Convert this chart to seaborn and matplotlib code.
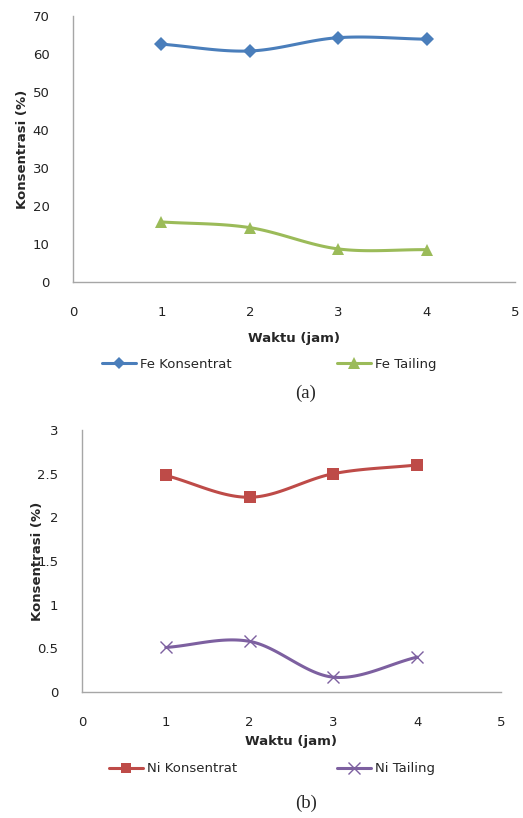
import numpy as np
import pandas as pd
import matplotlib
matplotlib.use("Agg")
import matplotlib.pyplot as plt
from matplotlib.lines import Line2D
from matplotlib.ticker import FuncFormatter
import seaborn as sns

# ---- data ----
waktu = [1, 2, 3, 4]
fe_konsentrat = [62.6, 60.8, 64.3, 63.9]
fe_tailing = [15.8, 14.3, 8.7, 8.5]
ni_konsentrat = [2.48, 2.23, 2.50, 2.60]
ni_tailing = [0.51, 0.58, 0.17, 0.40]
x_ticks = [0, 1, 2, 3, 4, 5]
fe_yticks = [0, 10, 20, 30, 40, 50, 60, 70]
ni_yticks = [0, 0.5, 1, 1.5, 2, 2.5, 3]

sns.set_theme(style="white")
plt.rcParams['font.family'] = ['DejaVu Sans']

C_BLUE = "#4A7EBB"
C_GREEN = "#9BBB59"
C_RED = "#BE4B48"
C_PURPLE = "#7D60A0"
FS = 9.5


def smooth(x, y, n=40):
    """Catmull-Rom style smoothing path through the data points (Excel smoothed line)."""
    x = np.asarray(x, float)
    y = np.asarray(y, float)
    px = np.concatenate([[2 * x[0] - x[1]], x, [2 * x[-1] - x[-2]]])
    py = np.concatenate([[2 * y[0] - y[1]], y, [2 * y[-1] - y[-2]]])
    xs, ys = [], []
    t = np.linspace(0, 1, n)
    for i in range(1, len(px) - 2):
        p0, p1, p2, p3 = [np.array([px[j], py[j]]) for j in (i - 1, i, i + 1, i + 2)]
        c1 = p1 + (p2 - p0) / 6
        c2 = p2 - (p3 - p1) / 6
        b = ((1 - t) ** 3)[:, None] * p1 + (3 * (1 - t) ** 2 * t)[:, None] * c1 \
            + (3 * (1 - t) * t ** 2)[:, None] * c2 + (t ** 3)[:, None] * p2
        xs.extend(b[:, 0])
        ys.extend(b[:, 1])
    return np.array(xs), np.array(ys)


def draw_series(ax, x, y, color, marker, ms, mew=0):
    sx, sy = smooth(x, y)
    sns.lineplot(x=sx, y=sy, ax=ax, color=color, linewidth=2.2, sort=False,
                 estimator=None)
    mfc = color if marker != 'x' else 'none'
    ax.plot(x, y, linestyle='none', marker=marker, markersize=ms,
            markerfacecolor=mfc, markeredgecolor=color, markeredgewidth=mew,
            zorder=5)


def style_axes(ax, ylim, yticks, xpad, ypad):
    ax.set_xlim(0, 5)
    ax.set_ylim(*ylim)
    ax.set_xticks(x_ticks)
    ax.set_yticks(yticks)
    ax.yaxis.set_major_formatter(FuncFormatter(lambda v, p: f"{v:g}"))
    for s in ['top', 'right']:
        ax.spines[s].set_visible(False)
    for s in ['left', 'bottom']:
        ax.spines[s].set_color('#A6A6A6')
        ax.spines[s].set_linewidth(1.0)
    ax.tick_params(axis='both', length=0, labelsize=FS, colors='#222222')
    ax.tick_params(axis='x', pad=xpad)
    ax.tick_params(axis='y', pad=ypad)
    ax.grid(False)


fig = plt.figure(figsize=(5.23, 8.18), dpi=100)

# ---- panel (a) ----
ax1 = fig.add_axes([0.1396, 0.6553, 0.845, 0.3251])
draw_series(ax1, waktu, fe_konsentrat, C_BLUE, 'D', 7.5)
draw_series(ax1, waktu, fe_tailing, C_GREEN, '^', 9)
style_axes(ax1, (0, 70), fe_yticks, 17, 17)
ax1.set_xlabel("Waktu (jam)", fontsize=FS, fontweight='bold')
ax1.set_ylabel("Konsentrasi (%)", fontsize=FS, fontweight='bold')
ax1.yaxis.set_label_coords(-0.1, 0.5)
ax1.xaxis.set_label_coords(0.5, -0.19)

h1 = [Line2D([], [], color=C_BLUE, lw=2.2, marker='D', ms=6, mew=0),
      Line2D([], [], color=C_GREEN, lw=2.2, marker='^', ms=8, mew=0)]
fig.legend(h1, ["Fe Konsentrat", "Fe Tailing"], loc='center',
           bbox_to_anchor=(0.515, 0.555), ncol=2, frameon=False, fontsize=FS,
           handlelength=2.6, handletextpad=0.3, columnspacing=8.0)
fig.text(0.585, 0.519, "(a)", ha='center', va='center', fontsize=13.5,
         family='Liberation Serif')

# ---- panel (b) ----
ax2 = fig.add_axes([0.1568, 0.154, 0.801, 0.3203])
draw_series(ax2, waktu, ni_konsentrat, C_RED, 's', 8)
draw_series(ax2, waktu, ni_tailing, C_PURPLE, 'x', 9, mew=1.0)
style_axes(ax2, (0, 3), ni_yticks, 17, 17)
ax2.set_xlabel("Waktu (jam)", fontsize=FS, fontweight='bold')
ax2.set_ylabel("Konsentrasi (%)", fontsize=FS, fontweight='bold')
ax2.yaxis.set_label_coords(-0.09, 0.5)
ax2.xaxis.set_label_coords(0.5, -0.165)

h2 = [Line2D([], [], color=C_RED, lw=2.2, marker='s', ms=7, mew=0),
      Line2D([], [], color=C_PURPLE, lw=2.2, marker='x', ms=9, mew=1.0)]
fig.legend(h2, ["Ni Konsentrat", "Ni Tailing"], loc='center',
           bbox_to_anchor=(0.52, 0.06), ncol=2, frameon=False, fontsize=FS,
           handlelength=2.6, handletextpad=0.3, columnspacing=7.5)
fig.text(0.585, 0.018, "(b)", ha='center', va='center', fontsize=13.5,
         family='Liberation Serif')

fig.savefig("out.png", dpi=100)
